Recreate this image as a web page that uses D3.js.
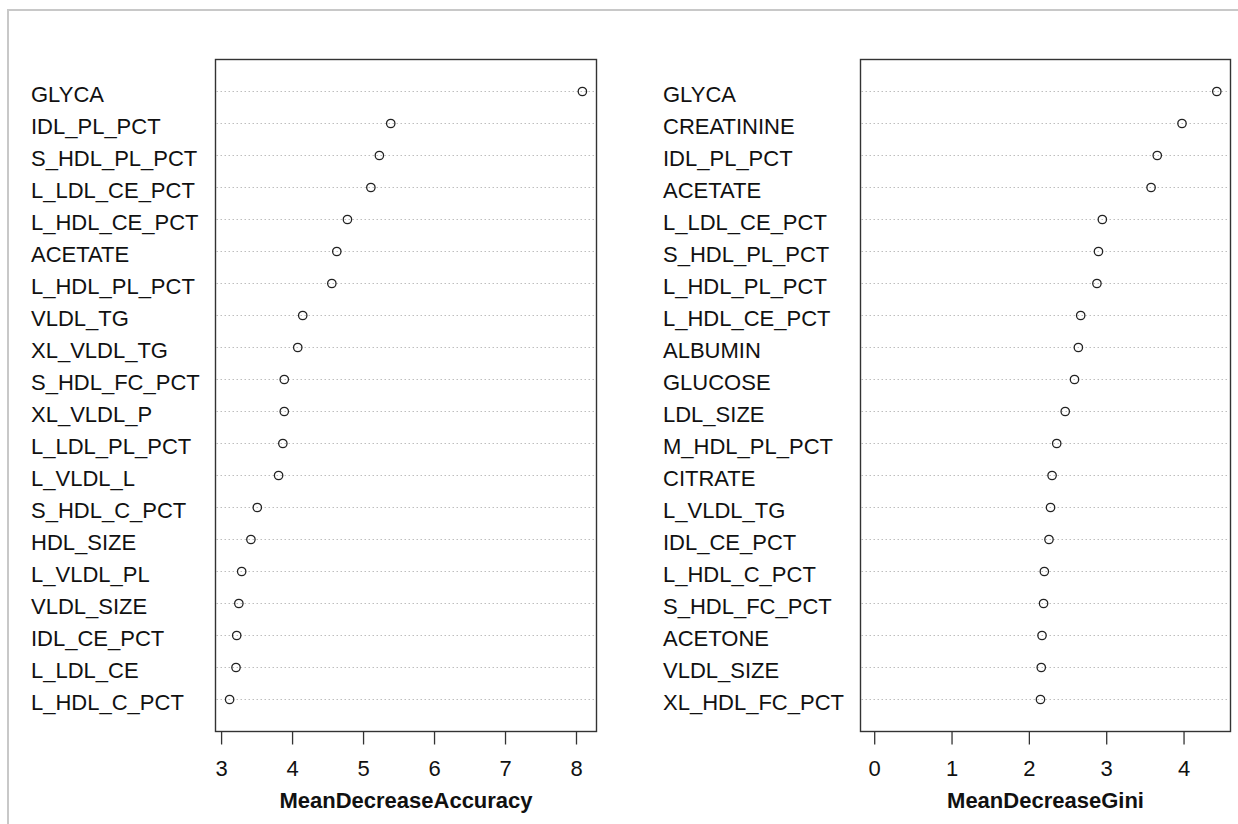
<!DOCTYPE html>
<html>
<head>
<meta charset="utf-8">
<script src="https://cdn.jsdelivr.net/npm/d3@7"></script>
<style>
  body { margin: 0; background: #fff; }
  svg { display: block; font-family: "Liberation Sans", Arial, sans-serif; }
  .tick text { font-size: 22px; fill: #111; }
  .tick line { stroke: #333; stroke-width: 1.3; }
</style>
</head>
<body>
<div id="chart"></div>
<script>
// Variable importance, left panel (top to bottom)
const accLabels = ["GLYCA", "IDL_PL_PCT", "S_HDL_PL_PCT", "L_LDL_CE_PCT", "L_HDL_CE_PCT",
  "ACETATE", "L_HDL_PL_PCT", "VLDL_TG", "XL_VLDL_TG", "S_HDL_FC_PCT", "XL_VLDL_P",
  "L_LDL_PL_PCT", "L_VLDL_L", "S_HDL_C_PCT", "HDL_SIZE", "L_VLDL_PL", "VLDL_SIZE",
  "IDL_CE_PCT", "L_LDL_CE", "L_HDL_C_PCT"];
const accValues = [8.09, 5.39, 5.23, 5.11, 4.78, 4.63, 4.56, 4.15, 4.08, 3.89, 3.89,
  3.87, 3.81, 3.51, 3.42, 3.29, 3.25, 3.22, 3.21, 3.12];
const accTicks = [3, 4, 5, 6, 7, 8];

// Right panel (top to bottom)
const giniLabels = ["GLYCA", "CREATININE", "IDL_PL_PCT", "ACETATE", "L_LDL_CE_PCT",
  "S_HDL_PL_PCT", "L_HDL_PL_PCT", "L_HDL_CE_PCT", "ALBUMIN", "GLUCOSE", "LDL_SIZE",
  "M_HDL_PL_PCT", "CITRATE", "L_VLDL_TG", "IDL_CE_PCT", "L_HDL_C_PCT", "S_HDL_FC_PCT",
  "ACETONE", "VLDL_SIZE", "XL_HDL_FC_PCT"];
const giniValues = [4.43, 3.98, 3.66, 3.58, 2.95, 2.90, 2.88, 2.67, 2.64, 2.59, 2.47,
  2.36, 2.30, 2.28, 2.26, 2.20, 2.19, 2.17, 2.16, 2.15];
const giniTicks = [0, 1, 2, 3, 4];

const width = 1238, height = 824;
const boxTop = 59.5, boxBottom = 731.5;

const svg = d3.select("#chart").append("svg")
  .attr("width", width)
  .attr("height", height);

// light frame around the picture
svg.append("rect")
  .attr("x", 8).attr("y", 10)
  .attr("width", width + 20).attr("height", height + 20)
  .attr("fill", "none")
  .attr("stroke", "#c8c8c8")
  .attr("stroke-width", 2);

function drawPanel(opts) {
  const n = opts.labels.length;
  // R style 4% padding around the data range
  let lo = opts.fromZero ? 0 : d3.min(opts.values);
  let hi = d3.max(opts.values);
  const pad = (hi - lo) * 0.04;

  const x = d3.scaleLinear()
    .domain([lo - pad, hi + pad])
    .range([opts.left, opts.right]);

  const y = d3.scaleLinear()
    .domain([0, n + 1])
    .range([boxBottom, boxTop]);

  const g = svg.append("g");

  // dotted guide lines
  g.selectAll(".guide")
    .data(opts.values)
    .join("line")
    .attr("class", "guide")
    .attr("x1", opts.left + 1)
    .attr("x2", opts.right - 1)
    .attr("y1", (d, i) => y(n - i))
    .attr("y2", (d, i) => y(n - i))
    .attr("stroke", "#bebebe")
    .attr("stroke-width", 1)
    .attr("stroke-dasharray", "1.5,2.5");

  // points
  g.selectAll(".pt")
    .data(opts.values)
    .join("circle")
    .attr("class", "pt")
    .attr("cx", d => x(d))
    .attr("cy", (d, i) => y(n - i))
    .attr("r", 4.2)
    .attr("fill", "none")
    .attr("stroke", "#222")
    .attr("stroke-width", 1.3);

  // variable names
  g.selectAll(".lab")
    .data(opts.labels)
    .join("text")
    .attr("class", "lab")
    .attr("x", opts.labelX)
    .attr("y", (d, i) => y(n - i) + 10)
    .attr("font-size", "22px")
    .attr("fill", "#111")
    .text(d => d);

  // box
  g.append("rect")
    .attr("x", opts.left)
    .attr("y", boxTop)
    .attr("width", opts.right - opts.left)
    .attr("height", boxBottom - boxTop)
    .attr("fill", "none")
    .attr("stroke", "#333")
    .attr("stroke-width", 1.4);

  // x axis
  const axis = g.append("g")
    .attr("transform", `translate(0,${boxBottom})`)
    .call(d3.axisBottom(x).tickValues(opts.ticks).tickSize(13).tickPadding(16)
      .tickFormat(d3.format("d")));
  axis.select(".domain").remove();
  axis.selectAll("text").attr("font-family", null);

  // axis title
  g.append("text")
    .attr("x", (opts.left + opts.right) / 2)
    .attr("y", 808)
    .attr("text-anchor", "middle")
    .attr("font-size", "22px")
    .attr("font-weight", "bold")
    .attr("fill", "#111")
    .text(opts.title);
}

drawPanel({
  labels: accLabels, values: accValues, ticks: accTicks,
  left: 215.5, right: 596.5, labelX: 31,
  fromZero: false, title: "MeanDecreaseAccuracy"
});

drawPanel({
  labels: giniLabels, values: giniValues, ticks: giniTicks,
  left: 860.5, right: 1230.5, labelX: 663,
  fromZero: true, title: "MeanDecreaseGini"
});
</script>
</body>
</html>
